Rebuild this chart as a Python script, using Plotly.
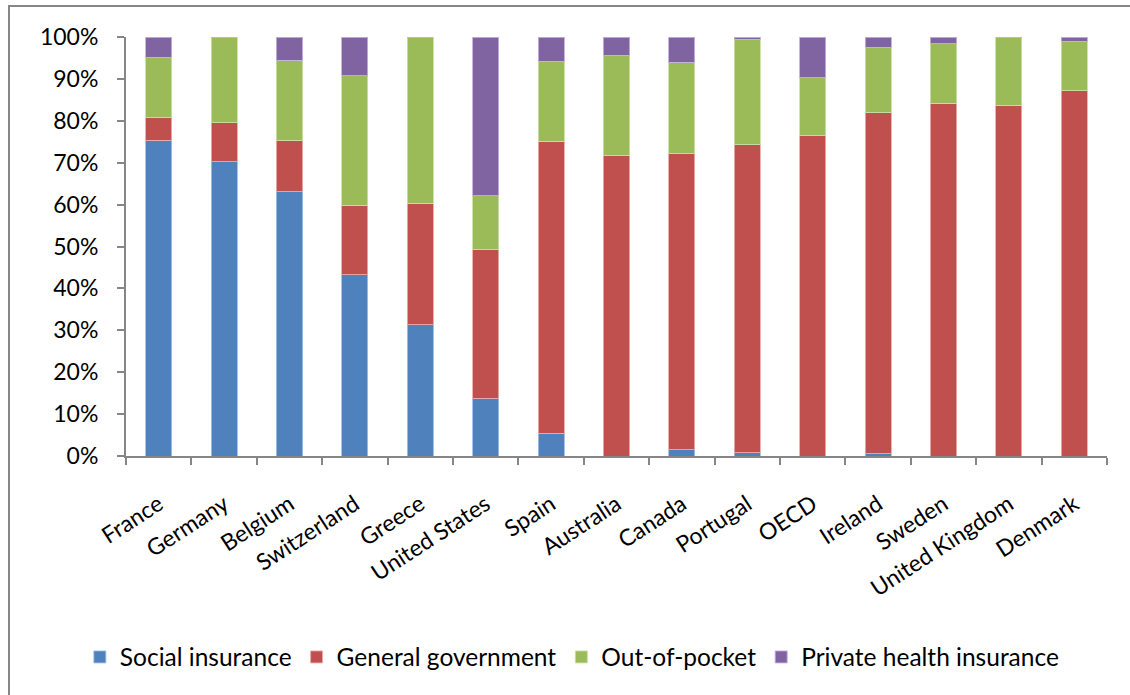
import plotly.graph_objects as go

countries = ["France", "Germany", "Belgium", "Switzerland", "Greece", "United States",
             "Spain", "Australia", "Canada", "Portugal", "OECD", "Ireland", "Sweden",
             "United Kingdom", "Denmark"]
social_insurance = [75.4, 70.2, 63.1, 43.2, 31.3, 13.8, 5.4, 0, 1.5, 0.8, 0, 0.5, 0, 0, 0]
general_government = [5.3, 9.3, 12.3, 16.7, 29.0, 35.4, 69.6, 71.7, 70.6, 73.5, 76.4, 81.4, 84.2, 83.6, 87.2]
out_of_pocket = [14.5, 20.5, 19.0, 30.9, 39.7, 12.9, 19.2, 24.0, 21.9, 25.2, 13.9, 15.6, 14.2, 16.4, 11.8]
private_insurance = [4.8, 0, 5.6, 9.2, 0, 37.9, 5.8, 4.3, 6.0, 0.5, 9.7, 2.5, 1.6, 0, 1.0]

series = [
    ("Social insurance", social_insurance, "#4F81BD", "rgba(160,190,230,0.9)"),
    ("General government", general_government, "#C0504D", "rgba(235,170,170,0.9)"),
    ("Out-of-pocket", out_of_pocket, "#9BBB59", "rgba(200,225,165,0.9)"),
    ("Private health insurance", private_insurance, "#8064A2", "rgba(195,175,220,0.9)"),
]

FONT = "Lato, Open Sans, sans-serif"

fig = go.Figure()
for name, vals, col, edge in series:
    fig.add_trace(go.Bar(x=countries, y=vals, name=name,
                         marker=dict(color=col, line=dict(color=edge, width=1))))

W, H = 1130, 695
L, R, T, B = 126, 23, 37, 239
pw = W - L - R
ph = H - T - B

def px_x(p):
    return (p - L) / pw

def px_y(p):
    return (H - B - p) / ph

fig.update_layout(
    width=W, height=H,
    barmode="stack",
    bargap=0.6,
    margin=dict(l=L, r=R, t=T, b=B, autoexpand=False),
    plot_bgcolor="white",
    paper_bgcolor="white",
    font=dict(family=FONT, size=22, color="black"),
    showlegend=True,
    legend=dict(orientation="h", x=0.455, xanchor="center", y=px_y(657), yanchor="middle",
                font=dict(size=24.5, family=FONT), itemwidth=30, traceorder="normal"),
    xaxis=dict(type="category", showline=True, linecolor="#868686", linewidth=2,
               ticks="outside", tickson="boundaries", ticklen=7, tickcolor="#868686", tickwidth=2,
               tickangle=-33, showgrid=False, tickfont=dict(size=23, family=FONT),
               ticklabelstandoff=24, automargin=False),
    yaxis=dict(range=[0, 100], dtick=10, ticksuffix="%", showline=True, linecolor="#868686",
               linewidth=2, ticks="outside", ticklen=7, tickcolor="#868686", tickwidth=2,
               showgrid=False, zeroline=False, tickfont=dict(size=23, family=FONT),
               ticklabelstandoff=14, automargin=False),
    shapes=[dict(type="rect", xref="paper", yref="paper",
                 x0=px_x(9), x1=px_x(1140), y0=px_y(705), y1=px_y(6),
                 line=dict(color="#878787", width=2), fillcolor="rgba(0,0,0,0)", layer="below")],
)

fig.write_html("out.html")
